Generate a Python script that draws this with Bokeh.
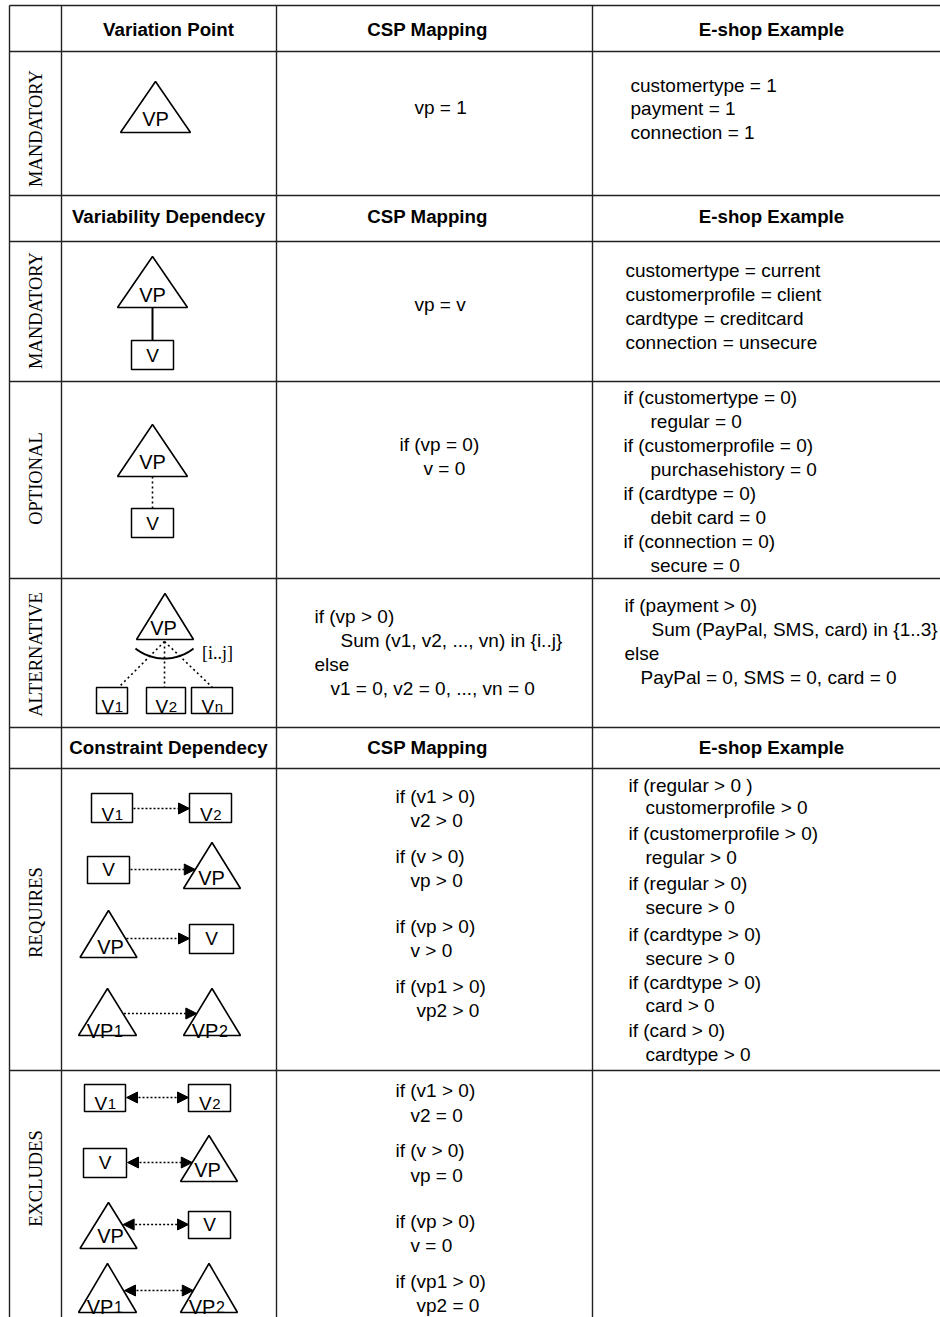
import numpy as np
from bokeh.plotting import figure
from bokeh.models import Range1d, Arrow, NormalHead, ColumnDataSource
from bokeh.core.properties import value
from bokeh.embed import file_html
from bokeh.resources import INLINE

# ---------------- table content ----------------
row_labels = ["MANDATORY", "MANDATORY", "OPTIONAL", "ALTERNATIVE", "REQUIRES", "EXCLUDES"]
header_vp = ["Variation Point", "CSP Mapping", "E-shop Example"]
header_var = ["Variability Dependecy", "CSP Mapping", "E-shop Example"]
header_con = ["Constraint Dependecy", "CSP Mapping", "E-shop Example"]

csp_vp_mandatory = ["vp = 1"]
eshop_vp_mandatory = ["customertype = 1", "payment = 1", "connection = 1"]
csp_mandatory = ["vp = v"]
eshop_mandatory = ["customertype = current", "customerprofile = client",
                   "cardtype = creditcard", "connection = unsecure"]
csp_optional = ["if (vp = 0)", "v = 0"]
eshop_optional = ["if (customertype = 0)", "regular = 0", "if (customerprofile = 0)",
                  "purchasehistory = 0", "if (cardtype = 0)", "debit card = 0",
                  "if (connection = 0)", "secure = 0"]
csp_alternative = ["if (vp > 0)", "Sum (v1, v2, ..., vn) in {i..j}", "else",
                   "v1 = 0, v2 = 0, ..., vn = 0"]
eshop_alternative = ["if (payment > 0)", "Sum (PayPal, SMS, card) in {1..3}", "else",
                     "PayPal = 0, SMS = 0, card = 0"]
csp_requires = ["if (v1 > 0)", "v2 > 0", "if (v > 0)", "vp > 0", "if (vp > 0)", "v > 0",
                "if (vp1 > 0)", "vp2 > 0"]
eshop_requires = ["if (regular > 0 )", "customerprofile > 0", "if (customerprofile > 0)",
                  "regular > 0", "if (regular > 0)", "secure > 0", "if (cardtype > 0)",
                  "secure > 0", "if (cardtype > 0)", "card > 0", "if (card > 0)",
                  "cardtype > 0"]
csp_excludes = ["if (v1 > 0)", "v2 = 0", "if (v > 0)", "vp = 0", "if (vp > 0)", "v = 0",
                "if (vp1 > 0)", "vp2 = 0"]
range_label = ["[i..j]"]

# symbols: main label and subscript
node_main = ["VP", "VP", "V", "VP", "V", "VP", "V", "V", "V",
             "V", "V", "V", "VP", "VP", "V", "VP", "VP",
             "V", "V", "V", "VP", "VP", "V", "VP", "VP"]
node_sub = ["", "", "", "", "", "", "1", "2", "n",
            "1", "2", "", "", "", "", "1", "2",
            "1", "2", "", "", "", "", "1", "2"]

# ---------------- layout (pixel positions of the reference) ----------------
# kind, cx, top, bottom, half-width, label x, label y
node_geom = [
    ("tri", 155, 81, 132, 35, 155, 118),
    ("tri", 152, 256, 307, 35, 152, 294),
    ("box", 152, 340, 369, 21, 152, 355),
    ("tri", 152, 424, 476, 35, 152, 461),
    ("box", 152, 508, 537, 21, 152, 523),
    ("tri", 164.5, 593, 639, 28.5, 163, 627),
    ("box", 111.5, 687, 713, 15.5, 111.5, 700),
    ("box", 165.5, 687, 713, 19.5, 165.5, 700),
    ("box", 211.5, 687, 713, 20.5, 211.5, 700),
    ("box", 111.5, 793, 822, 20.5, 111.5, 808),
    ("box", 210, 793, 822, 21, 210, 808),
    ("box", 108, 856, 883, 21, 108, 869),
    ("tri", 211.5, 842, 888, 28.5, 211, 877),
    ("tri", 108, 910, 957, 28.5, 110, 946),
    ("box", 211, 924, 953, 22, 211, 938),
    ("tri", 107, 988, 1035, 29, 104, 1024),
    ("tri", 211.5, 988, 1035, 28.5, 209, 1024),
    ("box", 104.5, 1084, 1111, 20.5, 104.5, 1097),
    ("box", 209, 1084, 1111, 21, 209, 1097),
    ("box", 104.5, 1148, 1177, 21.5, 104.5, 1162),
    ("tri", 208.5, 1135, 1181, 28.5, 207, 1169),
    ("tri", 108, 1202, 1248, 28.5, 110, 1235),
    ("box", 209, 1211, 1238, 21, 209, 1224),
    ("tri", 107, 1263, 1312, 29, 104, 1300),
    ("tri", 208.5, 1263, 1312, 28.5, 206, 1300),
]

V_LINES = [9, 61, 276, 592]
H_LINES = [5, 51, 195, 241, 381, 578, 727, 768, 1070]
TOP, BOTTOM, RIGHT = 5, 1317, 940

FONT = "Liberation Sans"
SERIF = "Liberation Serif"
BODY = "19px"

W, H = 940, 1317
p = figure(width=W, height=H, x_range=Range1d(0, W), y_range=Range1d(-H, 0),
           output_backend="svg", toolbar_location=None, min_border=0,
           x_axis_location=None, y_axis_location=None)
p.grid.visible = False
p.outline_line_color = None
p.background_fill_color = "white"
p.border_fill_color = "white"

LC = "#222222"

# table grid
p.segment(x0=V_LINES, y0=[-TOP] * len(V_LINES), x1=V_LINES, y1=[-BOTTOM] * len(V_LINES),
          line_color=LC, line_width=1.4)
p.segment(x0=[V_LINES[0]] * len(H_LINES), y0=[-y for y in H_LINES],
          x1=[RIGHT] * len(H_LINES), y1=[-y for y in H_LINES], line_color=LC, line_width=1.4)


def draw_text(xs, ys, texts, size=BODY, font=FONT, align="left", style="normal",
              angle=0.0, baseline="middle"):
    src = ColumnDataSource(dict(x=list(xs), y=[-y for y in ys], text=list(texts)))
    p.text(x="x", y="y", text="text", source=src, text_font=value(font),
           text_font_size=size, text_align=align, text_baseline=baseline,
           text_font_style=style, angle=angle, text_color="black")


# headers
hx = [168, 427, 771]
for hdr, hy in ((header_vp, 29), (header_var, 216), (header_con, 747)):
    draw_text(hx, [hy] * 3, hdr, size="18.7px", align="center", style="bold")

# rotated row labels
draw_text([35] * 6, [128, 310, 478, 654, 912, 1178], row_labels, size="18.5px",
          font=SERIF, align="center", angle=np.pi / 2)

# CSP mapping / E-shop blocks
draw_text([414], [107], csp_vp_mandatory)
draw_text([630] * 3, [85, 108, 132], eshop_vp_mandatory)
draw_text([414], [304], csp_mandatory)
draw_text([625] * 4, [270, 294, 318, 342], eshop_mandatory)
draw_text([399, 423], [444, 468], csp_optional)
draw_text([623, 650] * 4, [397, 421, 445, 469, 493, 517, 541, 565], eshop_optional)
draw_text([314, 340, 314, 330], [616, 640, 664, 688], csp_alternative)
draw_text([624, 651, 624, 640], [605, 629, 653, 677], eshop_alternative)
draw_text([395, 410] * 3 + [395, 416], [796, 820, 856, 880, 926, 950, 986, 1010], csp_requires)
draw_text([628, 645] * 6, [785, 807, 833, 857, 883, 907, 934, 958, 982, 1005, 1030, 1054],
          eshop_requires)
draw_text([395, 410] * 3 + [395, 416], [1090, 1115, 1150, 1175, 1221, 1245, 1281, 1305],
          csp_excludes)
draw_text([217], [652], range_label, size="18px", font=SERIF, align="center")

# symbols
tri_xs, tri_ys, bx = [], [], dict(l=[], r=[], t=[], b=[])
c_x, c_y, c_t, c_s = [], [], [], []
m_x, m_y, m_t, m_s = [], [], [], []
s_x, s_y, s_t, s_s = [], [], [], []
for (kind, cx, top, bot, hw, lx, ly), main, sub in zip(node_geom, node_main, node_sub):
    if kind == "tri":
        tri_xs.append([cx - hw, cx, cx + hw])
        tri_ys.append([-bot, -top, -bot])
        fs = 20
    else:
        bx["l"].append(cx - hw); bx["r"].append(cx + hw)
        bx["t"].append(-top); bx["b"].append(-bot)
        fs = 19
    if sub == "":
        c_x.append(lx); c_y.append(ly); c_t.append(main); c_s.append(f"{fs}px")
    else:
        wm = 0.667 * len(main) * fs
        ws = 0.556 * (fs - 4)
        junction = lx - (wm + ws) / 2 + wm
        base = ly + 0.33 * fs
        m_x.append(junction); m_y.append(base); m_t.append(main); m_s.append(f"{fs}px")
        s_x.append(junction + 0.5); s_y.append(base); s_t.append(sub); s_s.append(f"{fs - 4}px")

p.patches(xs=tri_xs, ys=tri_ys, fill_color=None, line_color="black", line_width=1.6)
p.quad(left=bx["l"], right=bx["r"], top=bx["t"], bottom=bx["b"], fill_color=None,
       line_color="black", line_width=1.5)

for xs, ys, ts, ss, al, bl in ((c_x, c_y, c_t, c_s, "center", "middle"),
                               (m_x, m_y, m_t, m_s, "right", "alphabetic"),
                               (s_x, s_y, s_t, s_s, "left", "alphabetic")):
    src = ColumnDataSource(dict(x=xs, y=[-v for v in ys], text=ts, size=ss))
    p.text(x="x", y="y", text="text", text_font_size="size", source=src,
           text_font=value(FONT), text_align=al, text_baseline=bl, text_color="black")

# connectors in variability rows
p.segment(x0=[152], y0=[-307], x1=[152], y1=[-340], line_color="black", line_width=2)
p.segment(x0=[152, 164, 164, 164], y0=[-476, -641, -641, -641],
          x1=[152, 118, 164, 212], y1=[-508, -687, -687, -687],
          line_color="black", line_width=1.6, line_dash="2 3")
t = np.linspace(-0.665, 0.665, 40)
p.line(x=164 + 47 * np.sin(t), y=-(611 + 47 * np.cos(t)), line_color="black", line_width=2)


# constraint arrows (tip placed on the triangle edge when target is a triangle)
def tri_edge(node, y, side):
    kind, cx, top, bot, hw = node[:5]
    off = hw * (y - top) / (bot - top)
    return cx - off if side == "left" else cx + off


g = node_geom
req_arrows = [
    (g[9][1] + g[9][4], 808, g[10][1] - g[10][4], 808),
    (g[11][1] + g[11][4], 869, tri_edge(g[12], 869, "left"), 869),
    (tri_edge(g[13], 938, "right"), 938, g[14][1] - g[14][4], 938),
    (tri_edge(g[15], 1013, "right"), 1013, tri_edge(g[16], 1013, "left"), 1013),
]
exc_arrows = [
    (g[17][1] + g[17][4], 1097, g[18][1] - g[18][4], 1097),
    (g[19][1] + g[19][4], 1162, tri_edge(g[20], 1162, "left"), 1162),
    (tri_edge(g[21], 1224, "right"), 1224, g[22][1] - g[22][4], 1224),
    (tri_edge(g[23], 1290, "right"), 1290, tri_edge(g[24], 1290, "left"), 1290),
]


def head():
    return NormalHead(size=11, fill_color="black", line_color="black", line_width=1)


for x0, y0, x1, y1 in req_arrows:
    p.add_layout(Arrow(end=head(), x_start=x0 + 1, y_start=-y0, x_end=x1, y_end=-y1,
                       line_dash="2 2", line_width=1.6, line_color="black"))
for x0, y0, x1, y1 in exc_arrows:
    p.add_layout(Arrow(start=head(), end=head(), x_start=x0 + 1, y_start=-y0, x_end=x1,
                       y_end=-y1, line_dash="2 2", line_width=1.6, line_color="black"))

open("out.html", "w").write(file_html(p, INLINE))
